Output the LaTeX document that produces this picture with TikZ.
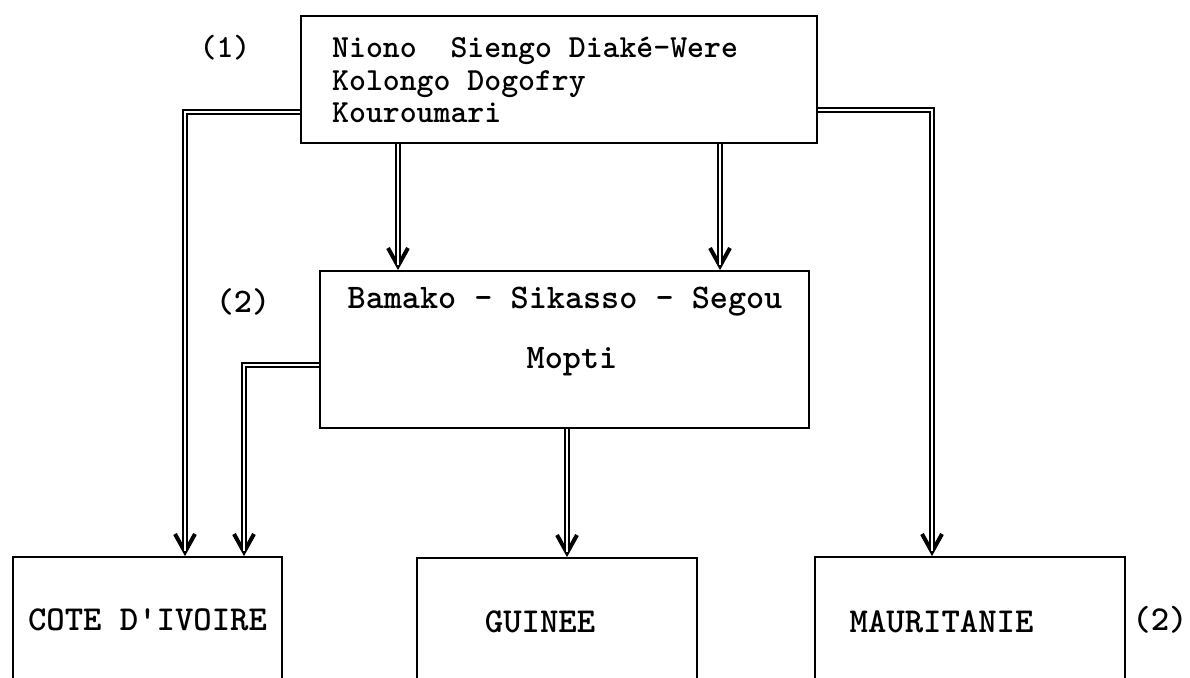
\documentclass[tikz,border=0pt]{standalone}
\usetikzlibrary{arrows.meta}
\begin{document}
\begin{tikzpicture}[x=1pt,y=-1pt,
  box/.style={draw, line width=1.8pt, rectangle, inner sep=0pt},
  lbl/.style={inner sep=0pt, font=\ttfamily\bfseries\fontsize{35}{40}\selectfont},
  lbltop/.style={inner sep=0pt, font=\ttfamily\bfseries\fontsize{32.2}{32}\selectfont},
  lblmid/.style={inner sep=0pt, font=\ttfamily\bfseries\fontsize{34.5}{40}\selectfont},
  tipline/.style={line width=1.8pt, -{Straight Barb[length=18pt,width=20pt,line width=4pt]}},
  dbl/.style={line width=1.8pt, double=white, double distance=2.4pt},
]
\useasboundingbox (0,0) rectangle (1190,677);
\clip (0,0) rectangle (1190,677);

% boxes
\node[box, minimum width=516pt, minimum height=127pt] (top) at (559,79.5) {};
\node[box, minimum width=489pt, minimum height=157pt] (mid) at (564.5,349.5) {};
\node[box, minimum width=269pt, minimum height=130pt] (cote) at (147.5,622) {};
\node[box, minimum width=280pt, minimum height=130pt] (guin) at (557,623) {};
\node[box, minimum width=310pt, minimum height=130pt] (maur) at (970,622) {};

% texts
\node[lbltop, anchor=base west] (t1) at (332,58) {Niono\ \ Siengo Diak\'e-Were};
\node[lbltop, anchor=base west] (t2) at (332,90) {Kolongo Dogofry};
\node[lbltop, anchor=base west] (t3) at (332,122) {Kouroumari};
\node[lblmid] (m1) at (565,302) {Bamako - Sikasso - Segou};
\node[lblmid] (m2) at (572,362) {Mopti};
\node[lbl] (c1) at (147.5,620) {COTE D'IVOIRE};
\node[lbl] (g1) at (540,622) {GUINEE};
\node[lbl] (r1) at (941.5,622) {MAURITANIE};
\node[lbltop] (n1) at (225,48) {(1)};
\node[lblmid] (n2) at (243,302) {(2)};
\node[lbl] (n3) at (1160,620) {(2)};

% connectors: tips first, then double lines on top
\draw[tipline] ([yshift=-32.5pt]top.west) -| ([xshift=37.5pt]cote.north);
\draw[tipline] ([yshift=-15.5pt]mid.west) -| ([xshift=96.5pt]cote.north);
\draw[tipline] ([xshift=-161pt]top.south) -- ([xshift=-166.5pt]mid.north);
\draw[tipline] ([xshift=161pt]top.south) -- ([xshift=155.5pt]mid.north);
\draw[tipline] ([xshift=2.5pt]mid.south) -- ([xshift=10pt]guin.north);
\draw[tipline] ([yshift=-30.5pt]top.east) -| ([xshift=-38pt]maur.north);

\draw[dbl, shorten >=5pt] ([yshift=-32.5pt]top.west) -| ([xshift=37.5pt]cote.north);
\draw[dbl, shorten >=5pt] ([yshift=-15.5pt]mid.west) -| ([xshift=96.5pt]cote.north);
\draw[dbl, shorten >=5pt] ([xshift=-161pt]top.south) -- ([xshift=-166.5pt]mid.north);
\draw[dbl, shorten >=5pt] ([xshift=161pt]top.south) -- ([xshift=155.5pt]mid.north);
\draw[dbl, shorten >=5pt] ([xshift=2.5pt]mid.south) -- ([xshift=10pt]guin.north);
\draw[dbl, shorten >=5pt] ([yshift=-30.5pt]top.east) -| ([xshift=-38pt]maur.north);
\end{tikzpicture}
\end{document}
